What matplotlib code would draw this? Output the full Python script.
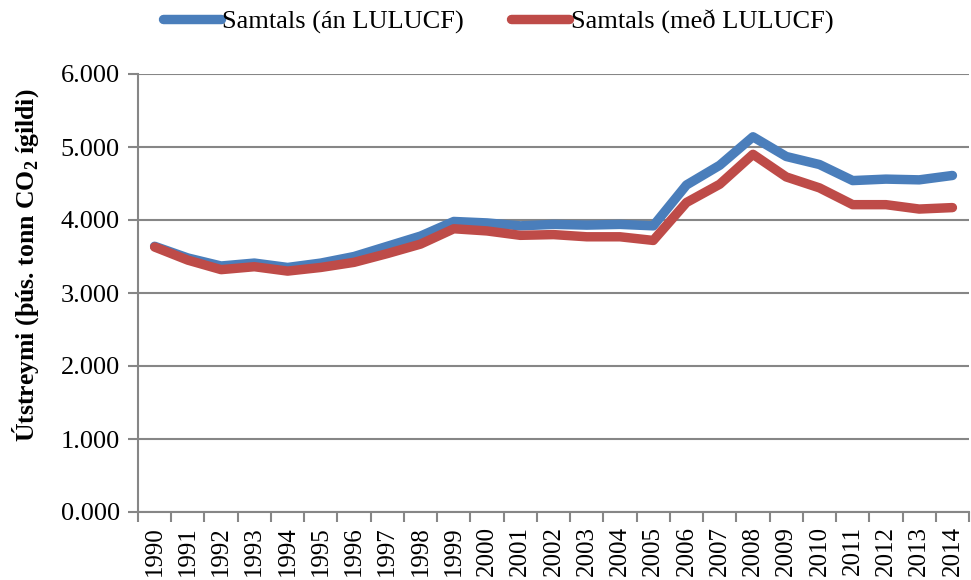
import matplotlib
matplotlib.use("Agg")
import matplotlib.pyplot as plt
import numpy as np
from matplotlib.ticker import FuncFormatter

plt.rcParams['font.family'] = ['Liberation Serif', 'DejaVu Serif']
plt.rcParams['mathtext.fontset'] = 'custom'
plt.rcParams['mathtext.rm'] = 'Liberation Serif'
plt.rcParams['mathtext.bf'] = 'Liberation Serif:bold'

# Data (thousand tonnes CO2 equivalent)
years = [str(y) for y in range(1990, 2015)]
an_lulucf = [3640, 3480, 3370, 3410, 3350, 3410, 3500, 3640, 3780, 3980,
             3960, 3920, 3940, 3930, 3940, 3920, 4480, 4750, 5140, 4870,
             4760, 4540, 4560, 4550, 4610]
med_lulucf = [3630, 3450, 3320, 3360, 3300, 3350, 3420, 3540, 3670, 3880,
              3850, 3790, 3800, 3770, 3770, 3720, 4240, 4490, 4900, 4590,
              4440, 4210, 4210, 4150, 4170]

blue = '#4a7ebb'
red = '#be4b48'
grey = '#868686'

fig = plt.figure(figsize=(9.71, 5.80), dpi=100)
ax = fig.add_axes([138 / 971, 1 - 512 / 580, 1 - 138 / 971 - 0.002, (512 - 74) / 580])

x = np.arange(len(years))
ax.plot(x, an_lulucf, color=blue, lw=6.8, solid_capstyle='round',
        solid_joinstyle='round', label='Samtals (án LULUCF)', zorder=3)
ax.plot(x, med_lulucf, color=red, lw=6.8, solid_capstyle='round',
        solid_joinstyle='round', label='Samtals (með LULUCF)', zorder=4)

ax.set_ylim(0, 6000)
ax.set_yticks(np.arange(0, 6001, 1000))
ax.yaxis.set_major_formatter(FuncFormatter(lambda v, p: f"{v/1000:.3f}"))
ax.grid(axis='y', color=grey, lw=1.5)
ax.set_axisbelow(True)

ax.set_xlim(-0.5, len(years) - 0.5)
ax.set_xticks(x)
ax.set_xticklabels(years, rotation=90)
ax.set_xticks(np.arange(-0.5, len(years), 1), minor=True)
ax.tick_params(axis='x', which='major', length=0, pad=10, labelsize=18)
ax.tick_params(axis='x', which='minor', length=7, width=1.5, color=grey)
ax.tick_params(axis='y', length=7, width=1.5, color=grey, labelsize=19, pad=6)

for s in ['top', 'right']:
    ax.spines[s].set_visible(False)
for s in ['left', 'bottom']:
    ax.spines[s].set_color(grey)
    ax.spines[s].set_linewidth(1.5)

ax.set_ylabel(r'Útstreymi (þús. tonn CO$_\mathbf{2}$ ígildi)', fontsize=18.5,
              fontweight='bold')
ax.yaxis.set_label_coords(-0.117, 0.564)

fig.legend(loc='center', bbox_to_anchor=(498 / 971, 1 - 22 / 580), ncol=2,
           frameon=False, fontsize=19, handlelength=2.2, handletextpad=0.05,
           columnspacing=1.8)

fig.savefig('out.png', dpi=100)
